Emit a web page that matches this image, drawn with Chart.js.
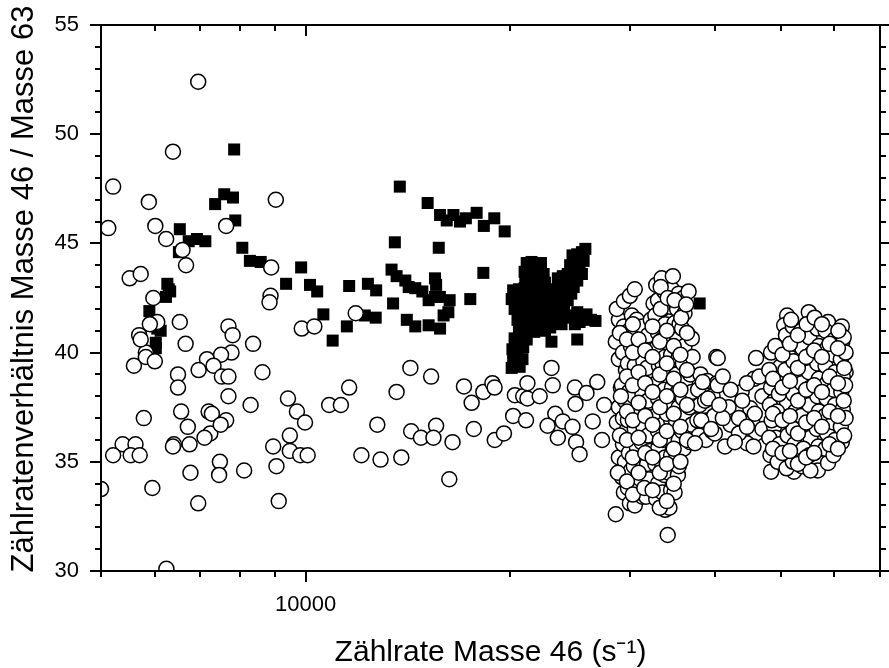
<!DOCTYPE html>
<html>
<head>
<meta charset="utf-8">
<script src="https://cdn.jsdelivr.net/npm/chart.js@4"></script>
<style>
  html, body { margin: 0; padding: 0; background: #fff; }
  #wrap { width: 889px; height: 668px; }
</style>
</head>
<body>
<div id="wrap"><canvas id="chart"></canvas></div>
<script>
// open circles, x < 10000
const circlesLeft = [
  [6950,52.4],[6380,49.2],[5210,47.6],[5880,46.9],[9040,47.0],[5125,45.7],[6010,45.8],[6235,45.2],
  [6590,44.7],[7640,45.8],[6670,44.0],[5510,43.4],[5720,43.6],[5970,42.5],[8900,43.9],[8880,42.6],
  [8850,42.3],[6050,41.4],[5900,41.3],[6530,41.4],[5690,40.8],[7700,41.2],[7810,40.8],[9870,41.1],
  [6660,40.4],[8370,40.4],[5820,40.0],[5720,40.6],[5590,39.4],[5820,39.8],[6000,39.6],[7780,40.0],
  [7160,39.7],[7510,39.9],[7320,39.4],[6960,39.2],[6490,39.0],[6490,38.4],[7530,38.9],[7700,38.9],
  [8640,39.1],[7700,38.0],[8300,37.6],[9420,37.9],[9710,37.3],[9980,36.8],[5780,37.0],[6560,37.3],
  [6710,36.6],[7200,37.3],[7280,37.2],[7240,36.3],[7640,36.9],[7500,36.7],[7100,36.1],[6400,35.8],
  [6750,35.8],[6380,35.7],[5380,35.8],[5620,35.8],[5210,35.3],[5530,35.3],[5700,35.3],[9480,36.2],
  [8960,35.7],[9480,35.5],[9820,35.3],[9060,34.8],[7480,35.0],[7460,34.4],[6770,34.5],[8120,34.6],
  [5000,33.75],[5950,33.8],[6950,33.1],[9130,33.2],[6240,30.1]
];

// open circles, 10000 - 28000
const circlesMid = [
  [10300,41.2],[11850,41.8],[14260,39.3],[15300,38.9],[11590,38.4],[13610,38.2],[10830,37.6],[11270,37.6],
  [12750,36.7],[14300,36.4],[14780,36.1],[15560,36.65],[15420,36.1],[16450,35.9],[12080,35.3],[12890,35.1],
  [13830,35.2],[16270,34.2],[17100,38.45],[17550,37.7],[18260,38.2],[18830,38.6],[18970,38.4],[17680,36.5],
  [18980,36.0],[19580,36.3],[20200,37.1],[20320,38.05],[20900,38.0],[21100,36.9],[10070,35.3],[23000,39.3],
  [23100,38.5],[21200,38.6],[21200,37.9],[22100,38.0],[24900,38.4],[25900,38.15],[26860,38.65],[24950,37.65],
  [27500,37.6],[23300,37.2],[22700,36.65],[23900,36.85],[24700,36.6],[26450,36.85],[23500,36.1],[25000,35.9],
  [25300,35.35],[27300,36.0]
];

// open circles, dense group 28000 - 40000
const circlesCluster1 = [
  [28600,32.6],[28900,35.2],[28700,36.8],[28900,37.5],[29100,38.4],[28900,39.7],[28600,40.5],[28900,41.5],[28700,42.0],
  [29400,33.6],[29200,34.3],[29500,35.0],[29300,35.8],[29600,36.4],[29300,37.0],[29500,37.8],[29200,38.5],
  [29600,39.2],[29300,40.0],[29500,40.8],[29400,41.2],[29400,42.35],
  [30000,33.1],[29800,33.8],[30100,34.6],[29900,35.4],[30200,36.1],[29800,36.9],[30100,37.6],[29900,38.2],
  [30200,38.9],[29800,39.5],[30100,40.3],[29900,41.0],[30200,41.7],[30000,42.6],
  [30500,33.0],[30700,34.0],[30400,34.8],[30700,35.7],[30500,36.5],[30800,37.3],[30400,38.0],[30700,38.7],
  [30500,39.4],[30800,40.1],[30500,40.8],[30700,41.5],[30500,42.9],
  [31300,33.4],[31100,34.2],[31400,35.0],[31200,35.9],[31400,36.6],[31100,37.4],[31300,38.1],[31100,38.9],
  [31400,39.6],[31200,40.4],[31300,41.2],
  [31700,33.4],[32000,34.2],[31800,34.9],[32100,35.5],[31900,36.2],[32200,37.0],[31900,37.8],[32100,38.5],
  [31800,39.3],[32100,40.0],[31900,40.8],[32200,41.5],[32500,42.25],
  [32800,33.3],[33000,34.0],[32700,34.9],[33000,35.6],[33000,36.4],[32700,37.1],[33000,37.9],[32800,38.6],
  [33100,39.4],[32800,40.2],[33000,40.9],[32700,41.7],[33000,42.4],[32800,43.1],
  [33800,32.8],[33500,33.6],[33700,34.4],[33500,34.8],[33800,35.2],[33500,36.0],[33800,36.8],[33500,37.5],
  [33700,38.3],[33500,39.5],[33800,39.8],[33500,40.6],[33800,41.3],[33500,42.0],[33700,42.8],[33400,43.4],
  [34100,31.65],[34300,32.9],[34500,33.7],[34200,34.5],[34500,35.3],[34300,36.1],[34500,36.9],[34000,37.2],
  [34300,37.6],[34600,38.4],[34300,39.1],[34500,39.9],[34200,40.7],[34900,41.35],[34400,42.1],[34600,42.9],[34700,43.5],
  [34900,33.6],[35300,34.4],[35400,34.8],[35100,35.2],[35400,36.0],[35100,36.8],[35400,37.5],[35300,38.2],
  [35100,39.0],[35400,39.8],[35200,40.6],[35500,41.3],[35200,42.0],[35400,42.7],
  [36000,35.6],[35800,36.4],[36100,37.2],[35900,37.9],[36200,38.7],[35900,39.5],[36100,40.3],[35800,41.1],
  [36100,41.8],[35950,42.5],
  [36800,35.9],[37000,36.7],[36700,37.5],[37000,38.2],[36800,39.0],[37100,39.8],[37000,40.65],[36600,42.8],
  [37900,36.2],[37700,36.9],[38000,37.6],[37800,38.3],[38100,39.0],
  [38800,36.0],[39100,36.9],[38700,37.8],[39000,38.7],
  [39600,36.4],[39900,37.1],[39700,38.0],[40300,38.6],[40200,39.8],
  [29000,36.2],[29100,38.0],[29000,40.9],[28800,34.5],[29700,34.1],[29700,36.0],[29700,37.3],[29700,38.9],
  [29700,40.6],[30300,33.5],[30300,35.2],[30300,36.9],[30300,38.5],[30300,40.0],[30300,41.3],[30900,34.5],
  [30900,36.1],[30900,37.7],[30900,39.1],[30900,40.6],[31500,33.8],[31600,35.4],[31600,37.1],[31600,38.6],
  [31600,40.1],[32400,33.7],[32400,35.2],[32400,36.7],[32400,38.2],[32400,39.8],[32400,41.2],[33200,32.9],
  [33200,34.5],[33200,36.0],[33200,37.5],[33200,39.0],[33200,40.5],[33300,42.0],[33300,43.0],[34000,33.2],
  [34000,34.9],[34000,36.4],[34000,38.0],[34000,39.5],[34000,41.0],[34100,42.5],[34800,34.0],[34800,35.6],
  [34800,37.2],[34800,38.8],[34800,40.3],[34900,42.4],[35600,35.0],[35600,36.6],[35600,38.3],[35600,39.9],
  [35700,41.6],[36400,36.0],[36400,37.6],[36400,39.2],[36400,40.9],[36300,42.2]
];

// open circles, band between the two groups
const circlesBand = [
  [40400,39.75],[46000,39.75],[45700,38.8],[38400,38.65],[40400,38.5],[43800,38.2],[39100,37.9],[41900,37.5],
  [45100,37.45],[38200,36.9],[40000,36.3],[42200,36.7],[45400,36.85],[46000,36.3],[41400,35.7],[37400,35.85],
  [44600,35.85],[41100,37.0],[42200,38.3],[43400,37.0],[44600,38.6],[45800,37.2],[47000,38.0],[41100,38.9],
  [43400,36.3],[44600,36.6],[47000,36.5],[39500,36.5],[42800,35.9],[45600,35.7],[40600,37.6],[46500,38.9],
  [43900,37.8]
];

// open circles, dense group 48000 - 63000
const circlesCluster2 = [
  [51100,41.7],[50600,41.25],[55000,41.85],[55500,41.4],[58700,41.4],[61500,41.2],[59400,40.65],[54100,40.7],
  [50200,40.15],[49900,39.35],[57300,39.95],[61500,40.1],[62300,39.1],[58000,38.75],[48900,37.8],[51100,37.7],
  [55000,38.0],[59900,37.75],[48900,36.6],[49200,36.1],[53500,36.15],[55300,36.1],[59400,36.45],[61500,35.9],
  [48300,35.3],[48400,34.55],[52300,34.55],[56700,34.6],[58700,34.95],[50400,35.15],[57300,35.6],
  [48100,36.1],[48500,36.9],[48200,37.6],[48400,38.4],[48100,39.2],[48400,40.0],
  [49500,35.0],[49800,35.8],[49400,37.3],[49700,38.1],[49500,38.8],[49800,40.3],
  [51000,34.7],[50800,35.4],[51200,36.2],[50900,36.9],[51100,38.5],[50800,39.2],[51200,40.0],[50900,40.8],
  [52100,35.0],[52400,35.8],[52200,36.5],[52500,37.3],[52200,38.1],[52500,38.8],[52200,39.6],[52400,40.4],[52100,41.2],
  [53700,34.8],[54000,35.6],[53600,37.1],[53900,37.9],[53700,38.6],[54000,39.4],[53800,40.2],[53600,41.0],
  [55300,34.6],[55100,35.3],[55400,36.8],[55100,37.6],[55300,38.4],[55000,39.1],[55300,39.9],[55100,40.7],
  [56800,35.7],[56500,36.5],[56900,37.3],[56600,38.0],[56900,38.8],[56600,39.5],[56900,40.3],[56600,41.1],
  [58200,35.6],[58500,36.3],[58100,37.1],[58400,37.9],[58500,38.6],[58200,39.4],[58500,40.2],[58200,41.0],
  [59800,35.3],[60100,36.0],[59800,36.8],[60100,37.6],[59800,38.3],[60100,39.1],[59800,39.9],[60000,40.6],
  [61300,36.6],[61700,37.4],[61400,38.2],[61700,38.9],[61300,39.7],[61600,40.5],
  [62000,36.2],[62300,37.0],[61900,37.8],[62200,38.5],[62000,39.3],[62300,40.0],[61900,40.7],
  [48700,35.6],[48700,37.2],[48700,38.8],[49100,40.3],[50300,35.4],[50300,36.9],[50300,38.4],[50300,39.9],
  [51600,35.5],[51600,37.1],[51600,38.7],[51600,40.4],[51800,41.5],[53000,34.9],[53000,36.3],[53000,37.8],
  [53000,39.3],[53000,40.8],[54500,35.2],[54500,36.8],[54500,38.3],[54500,39.8],[54600,41.3],[56000,35.4],
  [56000,37.0],[56000,38.5],[56000,40.1],[56100,41.6],[57500,36.6],[57500,38.2],[57500,39.8],[57500,41.3],
  [59000,35.8],[59000,37.3],[59000,38.9],[59000,40.4],[60700,35.6],[60700,37.1],[60700,38.6],[60700,40.2],
  [60800,41.0]
];

// filled squares, x < 10000
const squaresLeft = [
  [7850,49.3],[7360,46.8],[7590,47.25],[7820,47.1],[7880,46.05],[6530,45.65],[6730,45.1],[6920,45.2],
  [7120,45.1],[6510,44.6],[8070,44.8],[8280,44.2],[8590,44.15],[9850,43.9],[9360,43.15],[6260,43.15],
  [6290,42.9],[6230,42.55],[6320,42.8],[5890,41.9],[6050,41.1],[6120,41.0],[6020,40.45],[6020,40.2]
];

// filled squares, 10000 - 20000
const squaresMid = [
  [10150,43.1],[10400,42.8],[10620,41.75],[11590,43.05],[12350,43.15],[12700,42.85],[11500,41.2],[10960,40.55],
  [12220,41.7],[12680,41.6],[13760,47.6],[15120,46.85],[15770,46.3],[16130,46.05],[16500,46.3],[16870,46.0],
  [17210,46.15],[17850,46.4],[18290,45.8],[18950,46.15],[19630,45.55],[13530,45.05],[15700,44.8],[18260,43.65],
  [13380,43.8],[13610,43.5],[14020,43.3],[14180,43.0],[14500,42.95],[14850,42.8],[15500,43.4],[15560,43.1],
  [15760,42.55],[15170,42.4],[15500,42.55],[16290,42.4],[16220,41.85],[15960,41.7],[17470,42.45],[13450,42.25],
  [14090,41.5],[14500,41.2],[15170,41.25],[15770,41.1]
];

// filled squares, dense group 20000 - 27000 and the lone one near 38000
const squaresBlob = [
  [20100,39.3],[20350,39.45],[20650,39.35],[20200,39.75],[20500,39.9],[20850,39.7],[20150,40.15],[20450,40.3],
  [20900,40.25],[20300,40.65],[20700,40.7],[21150,40.6],
  [20600,41.1],[20950,41.0],[21300,41.05],[21700,40.95],[22100,41.1],[22500,41.0],[22900,41.15],
  [20500,41.5],[20850,41.45],[21250,41.55],[21650,41.4],[22000,41.6],[22400,41.5],[22800,41.45],[23150,41.6],
  [20300,42.0],[20700,41.95],[21100,42.05],[21500,41.9],[21900,42.0],[22300,42.1],[22700,41.95],[23100,42.05],
  [20100,42.45],[20450,42.5],[20850,42.4],[21250,42.55],[21650,42.45],[22050,42.5],[22450,42.4],[22850,42.55],
  [20200,42.85],[20600,42.9],[21000,42.95],[21400,42.85],[21800,42.95],[22200,42.9],[22600,42.8],
  [21050,43.3],[21400,43.35],[21750,43.25],[22150,43.3],[22500,43.2],
  [21000,43.7],[21350,43.75],[21700,43.65],[22050,43.75],[22400,43.6],
  [21150,44.1],[21500,44.15],[21850,44.05],[22200,44.1],
  [23300,42.5],[23600,42.3],[23900,42.6],[24300,42.4],[24600,42.7],
  [23400,42.9],[23700,43.1],[24000,42.95],[24400,43.2],[24800,43.0],[25100,43.3],
  [23500,43.4],[23900,43.5],[24300,43.6],[24700,43.5],[25100,43.7],[25500,43.6],
  [24500,44.0],[24900,44.1],[25300,44.05],[25650,44.2],
  [24700,44.45],[25100,44.5],[25500,44.6],[25800,44.75],
  [24700,41.7],[25100,41.85],[25500,41.6],[25900,41.75],[26300,41.5],[26700,41.45],[24900,41.3],[25300,41.4],
  [23500,41.8],[24000,42.1],[24200,41.6],[23800,41.3],[23000,40.5],[25100,40.6],
  [38000,42.25]
];

const xTickValues = [5000, 6000, 7000, 8000, 9000, 10000, 20000, 30000, 40000, 50000, 60000, 70000];
const yTickValues = [30, 31, 32, 33, 34, 35, 36, 37, 38, 39, 40, 41, 42, 43, 44, 45, 46, 47, 48, 49, 50, 51, 52, 53, 54, 55];
const yTitle = 'Zählratenverhältnis Masse 46 / Masse 63';

const toPoints = list => list.map(([x, y]) => ({x, y}));

/** Draws the closed frame, the tick marks and the y title like the original plot. */
const frameTicks = {
    id: 'frameTicks',
    afterDraw(chart) {
        const {ctx, chartArea: a, scales: {x, y}} = chart;
        const line = (x1, y1, x2, y2) => {
            ctx.beginPath();
            ctx.moveTo(x1, y1);
            ctx.lineTo(x2, y2);
            ctx.stroke();
        };
        ctx.save();
        ctx.strokeStyle = '#000';
        ctx.lineWidth = 2;
        ctx.strokeRect(a.left, a.top, a.right - a.left, a.bottom - a.top);
        xTickValues.forEach(v => {
            const px = Math.round(x.getPixelForValue(v));
            const len = v === 10000 ? 11 : 6;
            line(px, a.bottom, px, a.bottom + len);
            line(px, a.top, px, a.top + len);
        });
        yTickValues.forEach(v => {
            const py = Math.round(y.getPixelForValue(v));
            const len = v % 5 === 0 ? 11 : 6;
            line(a.left - len, py, a.left, py);
            line(a.right, py, a.right + len, py);
        });
        // rotated y title, a bit above the middle of the plot as in the original
        ctx.translate(33, 289);
        ctx.rotate(-Math.PI / 2);
        ctx.fillStyle = '#000';
        ctx.font = "31px 'Liberation Sans', Arial, sans-serif";
        ctx.textAlign = 'center';
        ctx.textBaseline = 'alphabetic';
        ctx.fillText(yTitle, 0, 0);
        ctx.restore();
    }
};

const font = {family: "'Liberation Sans', Arial, sans-serif", size: 22};

new Chart(document.getElementById('chart'), {
    type: 'scatter',
    data: {
        datasets: [{
            label: 'open',
            data: toPoints([...circlesLeft, ...circlesMid, ...circlesCluster1, ...circlesBand, ...circlesCluster2]),
            pointStyle: 'circle',
            pointRadius: 7.5,
            pointBorderWidth: 1.5,
            pointBorderColor: '#000',
            pointBackgroundColor: '#fff',
            clip: 0
        }, {
            label: 'filled',
            data: toPoints([...squaresLeft, ...squaresMid, ...squaresBlob]),
            pointStyle: 'rect',
            pointRadius: 8.5,
            pointBorderWidth: 0,
            pointBackgroundColor: '#000',
            pointBorderColor: '#000',
            clip: 0
        }]
    },
    options: {
        responsive: true,
        maintainAspectRatio: false,
        animation: false,
        events: [],
        layout: {padding: {top: 25, right: 2, left: 0, bottom: 0}},
        plugins: {legend: {display: false}, tooltip: {enabled: false}},
        scales: {
            x: {
                type: 'logarithmic',
                min: 5000,
                max: 70000,
                grid: {display: false, drawTicks: false},
                border: {display: false},
                afterFit: s => {
                    s.height = 97;
                    s.paddingLeft = 0;
                    s.paddingRight = 0;
                },
                ticks: {
                    autoSkip: false,
                    maxRotation: 0,
                    padding: 21,
                    color: '#000',
                    font: font,
                    callback: v => v === 10000 ? '10000' : ''
                },
                title: {
                    display: true,
                    text: 'Zählrate Masse 46 (s⁻¹)',
                    color: '#000',
                    font: {family: font.family, size: 30, lineHeight: 1},
                    padding: {top: 0, bottom: 0}
                }
            },
            y: {
                min: 30,
                max: 55,
                grid: {display: false, drawTicks: false},
                border: {display: false},
                afterFit: s => {
                    s.width = 101;
                    s.paddingTop = 0;
                    s.paddingBottom = 0;
                },
                ticks: {stepSize: 5, padding: 22, color: '#000', font: font}
            }
        }
    },
    plugins: [frameTicks]
});
</script>
</body>
</html>
